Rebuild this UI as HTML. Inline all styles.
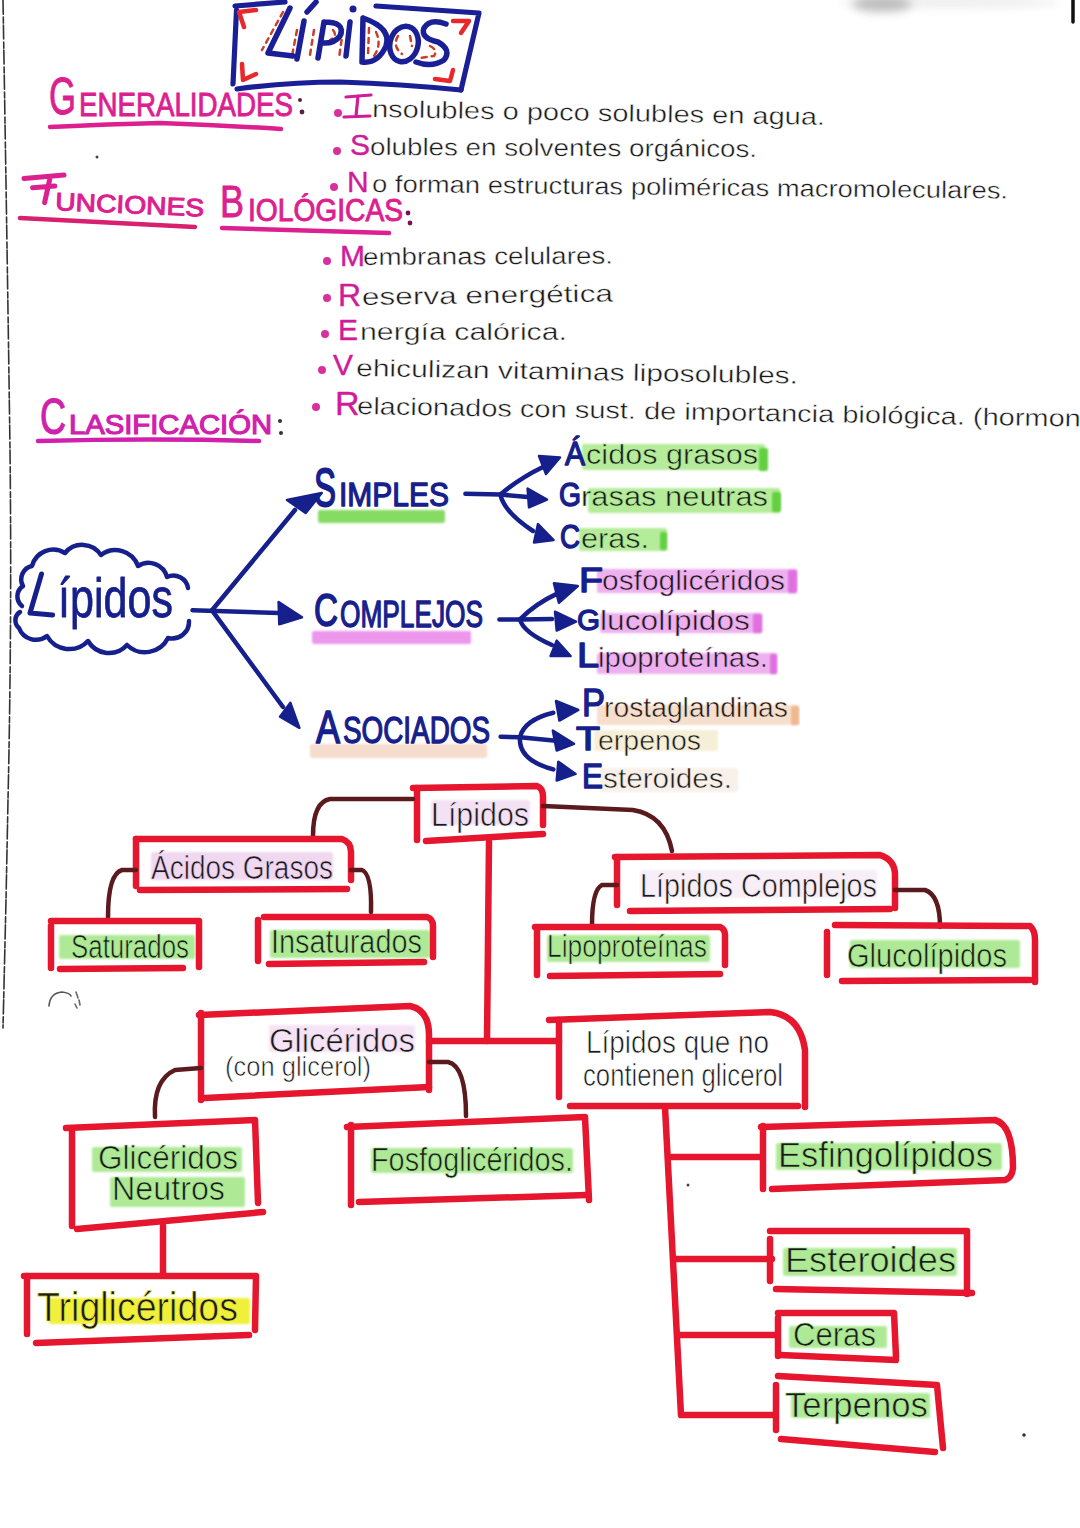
<!DOCTYPE html>
<html><head><meta charset="utf-8"><style>
html,body{margin:0;padding:0;background:#ffffff;}
svg{display:block;font-family:"Liberation Sans", sans-serif;}
</style></head><body>
<svg width="1080" height="1528" viewBox="0 0 1080 1528">
<defs><filter id="hb" x="-10%" y="-60%" width="120%" height="220%"><feGaussianBlur stdDeviation="1.2"/></filter><filter id="blur" x="-50%" y="-200%" width="200%" height="500%"><feGaussianBlur stdDeviation="5"/></filter></defs>
<rect width="1080" height="1528" fill="#ffffff"/>
<path d="M3,0 Q8,300 10,450 Q12,620 8,800 L6,900 L3,1028" fill="none" stroke="#333" stroke-width="1.6" stroke-linecap="round" stroke-linejoin="round" stroke-dasharray="14 3 6 2"/>
<ellipse cx="950" cy="2" rx="110" ry="6" fill="#ddd" opacity="0.5" filter="url(#blur)"/>
<ellipse cx="882" cy="4" rx="30" ry="8" fill="#999" opacity="0.6" filter="url(#blur)"/>
<path d="M1073,0 L1073,22" fill="none" stroke="#111" stroke-width="3.5" stroke-linecap="round" stroke-linejoin="round" />
<path d="M49,1006 Q50,993 62,992 Q70,993 71,996" fill="none" stroke="#555" stroke-width="1.6" stroke-linecap="round" stroke-linejoin="round" />
<path d="M76,992 L78,998 M79,1000 L80,1005 M75,1004 L77,1008" fill="none" stroke="#666" stroke-width="1.6" stroke-linecap="round" stroke-linejoin="round" />
<circle cx="97" cy="157" r="1.5" fill="#444"/>
<circle cx="688" cy="1185" r="1.5" fill="#444"/>
<circle cx="1024" cy="1435" r="1.8" fill="#333"/>
<path d="M235,6 L285,2" fill="none" stroke="#1a1f96" stroke-width="5.2" stroke-linecap="round" stroke-linejoin="round" />
<path d="M376,6 L479,13 L461,90" fill="none" stroke="#1a1f96" stroke-width="5.2" stroke-linecap="round" stroke-linejoin="round" />
<path d="M237,89 Q290,82 340,82 Q400,84 461,90" fill="none" stroke="#1a1f96" stroke-width="5.2" stroke-linecap="round" stroke-linejoin="round" />
<path d="M236.5,10 L233,84" fill="none" stroke="#1a1f96" stroke-width="5.2" stroke-linecap="round" stroke-linejoin="round" />
<path d="M256,10 L239,12 L244,27" fill="none" stroke="#e8282a" stroke-width="4.5" stroke-linecap="round" stroke-linejoin="round" />
<path d="M242,64 L243,80 L256,74" fill="none" stroke="#e8282a" stroke-width="4.5" stroke-linecap="round" stroke-linejoin="round" />
<path d="M453,21 L469,21 L461,33" fill="none" stroke="#e8282a" stroke-width="4.5" stroke-linecap="round" stroke-linejoin="round" />
<path d="M453,70 L450,81 L435,79" fill="none" stroke="#e8282a" stroke-width="4.5" stroke-linecap="round" stroke-linejoin="round" />
<path d="M283,12 L262,50" fill="none" stroke="#c8402a" stroke-width="2.5" stroke-linecap="round" stroke-linejoin="round" stroke-dasharray="5 5"/>
<path d="M297,30 L292,56" fill="none" stroke="#c8402a" stroke-width="2.5" stroke-linecap="round" stroke-linejoin="round" stroke-dasharray="5 5"/>
<path d="M314,30 L310,55 M333,30 Q338,36 330,40" fill="none" stroke="#c8402a" stroke-width="2.5" stroke-linecap="round" stroke-linejoin="round" stroke-dasharray="5 5"/>
<path d="M343,30 L339,58" fill="none" stroke="#c8402a" stroke-width="2.5" stroke-linecap="round" stroke-linejoin="round" stroke-dasharray="5 5"/>
<path d="M369,28 L368,56 M376,32 Q382,45 374,56" fill="none" stroke="#c8402a" stroke-width="2.5" stroke-linecap="round" stroke-linejoin="round" stroke-dasharray="5 5"/>
<path d="M398,36 Q392,46 402,54 M410,36 L412,46" fill="none" stroke="#c8402a" stroke-width="2.5" stroke-linecap="round" stroke-linejoin="round" stroke-dasharray="5 5"/>
<path d="M430,46 Q438,50 434,56 L420,58" fill="none" stroke="#c8402a" stroke-width="2.5" stroke-linecap="round" stroke-linejoin="round" stroke-dasharray="5 5"/>
<path d="M290,8 L268,53 L293,56" fill="none" stroke="#1a1f96" stroke-width="5.5" stroke-linecap="round" stroke-linejoin="round" />
<path d="M307,12 L316,2" fill="none" stroke="#1a1f96" stroke-width="5.5" stroke-linecap="round" stroke-linejoin="round" />
<path d="M304,21 L297,59" fill="none" stroke="#1a1f96" stroke-width="5.5" stroke-linecap="round" stroke-linejoin="round" />
<path d="M324,22 L318,58 M324,22 Q346,22 340,36 Q334,44 322,43" fill="none" stroke="#1a1f96" stroke-width="5.5" stroke-linecap="round" stroke-linejoin="round" />
<circle cx="353" cy="9" r="3.5" fill="#1a1f96"/>
<path d="M350,22 L346,56" fill="none" stroke="#1a1f96" stroke-width="5.5" stroke-linecap="round" stroke-linejoin="round" />
<path d="M363,18 L362,62 M363,18 Q392,28 386,46 Q378,64 362,62" fill="none" stroke="#1a1f96" stroke-width="5.5" stroke-linecap="round" stroke-linejoin="round" />
<ellipse cx="404" cy="44" rx="14" ry="18" transform="rotate(15 404 44)" fill="none" stroke="#1a1f96" stroke-width="5.5"/>
<path d="M446,24 Q430,18 424,28 Q420,38 438,42 Q452,50 444,60 Q432,68 416,62" fill="none" stroke="#1a1f96" stroke-width="5.5" stroke-linecap="round" stroke-linejoin="round" />
<text x="49" y="114" font-size="52" fill="#dc2090" stroke="#dc2090" stroke-width="0.9" textLength="27" lengthAdjust="spacingAndGlyphs">G</text>
<text x="79" y="116" font-size="34" fill="#dc2090" stroke="#dc2090" stroke-width="0.9" textLength="214" lengthAdjust="spacingAndGlyphs">ENERALIDADES</text>
<circle cx="302" cy="112" r="2.4" fill="#5a2040"/>
<circle cx="300" cy="100" r="2" fill="#5a2040"/>
<path d="M50,127 Q110,124 160,123 Q220,125 281,129" fill="none" stroke="#dc2090" stroke-width="4.5" stroke-linecap="round" stroke-linejoin="round" />
<path d="M24,178.5 L64,175 M50,178 L44.6,202.6 M32.6,187.8 L54.8,186" fill="none" stroke="#dc2090" stroke-width="5" stroke-linecap="round" stroke-linejoin="round" />
<text x="55" y="210" font-size="25" fill="#dc2090" stroke="#dc2090" stroke-width="1.0" textLength="149" lengthAdjust="spacingAndGlyphs" transform="rotate(2.5 55 210)">UNCIONES</text>
<path d="M20,218 L195,227" fill="none" stroke="#d8206f" stroke-width="4.5" stroke-linecap="round" stroke-linejoin="round" />
<text x="220" y="217" font-size="44" fill="#dc2090" stroke="#dc2090" stroke-width="0.8" textLength="24" lengthAdjust="spacingAndGlyphs">B</text>
<text x="248" y="221" font-size="31" fill="#dc2090" stroke="#dc2090" stroke-width="0.9" textLength="155" lengthAdjust="spacingAndGlyphs">IOLÓGICAS</text>
<circle cx="408" cy="213" r="2.4" fill="#7a1050"/>
<circle cx="410" cy="223" r="2.4" fill="#7a1050"/>
<path d="M222,228 L389,233" fill="none" stroke="#dc2090" stroke-width="4.5" stroke-linecap="round" stroke-linejoin="round" />
<text x="40" y="434" font-size="50" fill="#d020ac" stroke="#d020ac" stroke-width="1.1" textLength="26" lengthAdjust="spacingAndGlyphs">C</text>
<text x="69" y="434" font-size="28" fill="#d020ac" stroke="#d020ac" stroke-width="1.2" textLength="203" lengthAdjust="spacingAndGlyphs">LASIFICACIÓN</text>
<circle cx="280" cy="421" r="2" fill="#333"/>
<circle cx="281" cy="433" r="2" fill="#333"/>
<path d="M38,441 Q150,438 259,441" fill="none" stroke="#d020ac" stroke-width="4.5" stroke-linecap="round" stroke-linejoin="round" />
<circle cx="338" cy="113" r="4" fill="#d8309c"/>
<path d="M346,97 L371,95 M358,96 L356,116 M344,117 L370,116" fill="none" stroke="#d01c98" stroke-width="3.2" stroke-linecap="round" stroke-linejoin="round" />
<text x="372" y="117" font-size="24" fill="#1a1a1a" font-weight="normal" stroke="#ffffff" stroke-width="0.4" textLength="453" lengthAdjust="spacingAndGlyphs" transform="rotate(1.0 372 117)">nsolubles o poco solubles en agua.</text>
<circle cx="337" cy="151" r="4" fill="#d8309c"/>
<text x="350" y="155" font-size="30" fill="#d01c98" font-weight="normal" stroke="#d01c98" stroke-width="0.4" stroke-linejoin="round">S</text>
<text x="370" y="155" font-size="24" fill="#1a1a1a" font-weight="normal" stroke="#ffffff" stroke-width="0.4" textLength="387" lengthAdjust="spacingAndGlyphs" transform="rotate(0.3 370 155)">olubles en solventes orgánicos.</text>
<circle cx="334" cy="187" r="4" fill="#d8309c"/>
<text x="347" y="192" font-size="30" fill="#d01c98" font-weight="normal" stroke="#d01c98" stroke-width="0.4" stroke-linejoin="round">N</text>
<text x="372" y="192" font-size="24" fill="#1a1a1a" font-weight="normal" stroke="#ffffff" stroke-width="0.4" textLength="636" lengthAdjust="spacingAndGlyphs" transform="rotate(0.6 372 192)">o forman estructuras poliméricas macromoleculares.</text>
<circle cx="327" cy="261" r="4" fill="#d8309c"/>
<text x="340" y="266" font-size="30" fill="#d01c98" font-weight="normal" stroke="#d01c98" stroke-width="0.4" stroke-linejoin="round">M</text>
<text x="363" y="265" font-size="24" fill="#1a1a1a" font-weight="normal" stroke="#ffffff" stroke-width="0.4" textLength="250" lengthAdjust="spacingAndGlyphs" transform="rotate(-0.3 363 265)">embranas celulares.</text>
<circle cx="327" cy="298" r="4" fill="#d8309c"/>
<text x="338" y="306" font-size="32" fill="#d01c98" font-weight="normal" stroke="#d01c98" stroke-width="0.4" stroke-linejoin="round">R</text>
<text x="362" y="305" font-size="24" fill="#1a1a1a" font-weight="normal" stroke="#ffffff" stroke-width="0.4" textLength="251" lengthAdjust="spacingAndGlyphs" transform="rotate(-0.8 362 305)">eserva energética</text>
<circle cx="325" cy="334" r="4" fill="#d8309c"/>
<text x="338" y="340" font-size="30" fill="#d01c98" font-weight="normal" stroke="#d01c98" stroke-width="0.4" stroke-linejoin="round">E</text>
<text x="360" y="340" font-size="24" fill="#1a1a1a" font-weight="normal" stroke="#ffffff" stroke-width="0.4" textLength="207" lengthAdjust="spacingAndGlyphs">nergía calórica.</text>
<circle cx="322" cy="370" r="4" fill="#d8309c"/>
<text x="333" y="375" font-size="30" fill="#d01c98" font-weight="normal" stroke="#d01c98" stroke-width="0.4" stroke-linejoin="round">V</text>
<text x="356" y="376" font-size="24" fill="#1a1a1a" font-weight="normal" stroke="#ffffff" stroke-width="0.4" textLength="442" lengthAdjust="spacingAndGlyphs" transform="rotate(1.0 356 376)">ehiculizan vitaminas liposolubles.</text>
<circle cx="316" cy="407" r="4" fill="#d8309c"/>
<text x="335" y="415" font-size="34" fill="#d01c98" font-weight="normal" stroke="#d01c98" stroke-width="0.4" stroke-linejoin="round">R</text>
<text x="357" y="414" font-size="24" fill="#1a1a1a" font-weight="normal" stroke="#ffffff" stroke-width="0.4" textLength="740" lengthAdjust="spacingAndGlyphs" transform="rotate(1.0 357 414)">elacionados con sust. de importancia biológica. (hormona</text>
<path d="M22,606 A12.4,12.4 0 0 1 23,586 A13.6,13.6 0 0 1 32,566 A22.0,22.0 0 0 1 65,553 A22.4,22.4 0 0 1 101,555 A23.9,23.9 0 0 1 138,566 A19.2,19.2 0 0 1 167,577 A14.7,14.7 0 0 1 188,588" fill="none" stroke="#16208c" stroke-width="4.5" stroke-linecap="round" stroke-linejoin="round" />
<path d="M189,621 A16.8,16.8 0 0 1 168,638 A25.8,25.8 0 0 1 127,645 A24.3,24.3 0 0 1 88,641 A25.6,25.6 0 0 1 47,636 A18.1,18.1 0 0 1 19,628 A9.9,9.9 0 0 1 20,612" fill="none" stroke="#16208c" stroke-width="4.5" stroke-linecap="round" stroke-linejoin="round" />
<path d="M41.5,574 L30,613 L52.6,615" fill="none" stroke="#16208c" stroke-width="5" stroke-linecap="round" stroke-linejoin="round" />
<text x="58" y="617" font-size="44" fill="#16208c" font-weight="normal" stroke="#16208c" stroke-width="0.6" stroke-linejoin="round" textLength="115" lengthAdjust="spacingAndGlyphs" transform="translate(0 617) scale(1 1.25) translate(0 -617)">ípidos</text>
<path d="M192.5,610.3 L279,613" fill="none" stroke="#16208c" stroke-width="4.5" stroke-linecap="round" stroke-linejoin="round" />
<path d="M212,610.3 L295,510" fill="none" stroke="#16208c" stroke-width="4.5" stroke-linecap="round" stroke-linejoin="round" />
<path d="M212,610.3 L283,707" fill="none" stroke="#16208c" stroke-width="4.5" stroke-linecap="round" stroke-linejoin="round" />
<polygon points="321.7,493 287,500 305.7,513" fill="#16208c" stroke="#16208c" stroke-width="2.5" stroke-linejoin="round"/>
<polygon points="302,617.4 278.6,602 279.3,624.3" fill="#16208c" stroke="#16208c" stroke-width="2.5" stroke-linejoin="round"/>
<polygon points="299.4,727.8 280,716.7 290.4,702.8" fill="#16208c" stroke="#16208c" stroke-width="2.5" stroke-linejoin="round"/>
<rect x="318" y="510" width="127" height="13" rx="2" fill="#86dc62" opacity="1.0" filter="url(#hb)"/>
<rect x="312" y="631" width="159" height="13" rx="2" fill="#ec96ec" opacity="1.0" filter="url(#hb)"/>
<rect x="310" y="744" width="177" height="14" rx="2" fill="#f6dccc" opacity="1.0" filter="url(#hb)"/>
<text x="314" y="506" font-size="38" fill="#16208c" font-weight="normal" stroke="#16208c" stroke-width="1.3" stroke-linejoin="round" textLength="22" lengthAdjust="spacingAndGlyphs" transform="translate(0 506) scale(1 1.4) translate(0 -506)">S</text>
<text x="339" y="506" font-size="34" fill="#16208c" font-weight="normal" stroke="#16208c" stroke-width="1.3" stroke-linejoin="round" textLength="110" lengthAdjust="spacingAndGlyphs">IMPLES</text>
<text x="314" y="626" font-size="36" fill="#16208c" font-weight="normal" stroke="#16208c" stroke-width="1.3" stroke-linejoin="round" textLength="24" lengthAdjust="spacingAndGlyphs" transform="translate(0 626) scale(1 1.3) translate(0 -626)">C</text>
<text x="340" y="627" font-size="36" fill="#16208c" font-weight="normal" stroke="#16208c" stroke-width="1.3" stroke-linejoin="round" textLength="143" lengthAdjust="spacingAndGlyphs" transform="translate(0 627) scale(1 1.05) translate(0 -627)">OMPLEJOS</text>
<text x="316" y="743" font-size="36" fill="#16208c" font-weight="normal" stroke="#16208c" stroke-width="1.3" stroke-linejoin="round" textLength="24" lengthAdjust="spacingAndGlyphs" transform="translate(0 743) scale(1 1.3) translate(0 -743)">A</text>
<text x="343" y="743" font-size="36" fill="#16208c" font-weight="normal" stroke="#16208c" stroke-width="1.3" stroke-linejoin="round" textLength="147" lengthAdjust="spacingAndGlyphs">SOCIADOS</text>
<path d="M465.4,493.8 L500.4,494.5" fill="none" stroke="#16208c" stroke-width="4.5" stroke-linecap="round" stroke-linejoin="round" />
<path d="M500.4,494.5 Q520,478 543,467" fill="none" stroke="#16208c" stroke-width="4.5" stroke-linecap="round" stroke-linejoin="round" />
<path d="M500.4,494.5 L527.6,497" fill="none" stroke="#16208c" stroke-width="4.5" stroke-linecap="round" stroke-linejoin="round" />
<path d="M500.4,494.5 Q504,512 533,531" fill="none" stroke="#16208c" stroke-width="4.5" stroke-linecap="round" stroke-linejoin="round" />
<polygon points="560,457.5 539,456 546,474" fill="#16208c" stroke="#16208c" stroke-width="2.5" stroke-linejoin="round"/>
<polygon points="547,499.7 527.6,488.6 529,507.4" fill="#16208c" stroke="#16208c" stroke-width="2.5" stroke-linejoin="round"/>
<polygon points="553.6,540 538,524 534,542.5" fill="#16208c" stroke="#16208c" stroke-width="2.5" stroke-linejoin="round"/>
<path d="M499.4,619.4 L520,619.4" fill="none" stroke="#16208c" stroke-width="4.5" stroke-linecap="round" stroke-linejoin="round" />
<path d="M520,619.4 Q535,604 556.7,593.9" fill="none" stroke="#16208c" stroke-width="4.5" stroke-linecap="round" stroke-linejoin="round" />
<path d="M520,619.4 L552,619" fill="none" stroke="#16208c" stroke-width="4.5" stroke-linecap="round" stroke-linejoin="round" />
<path d="M520,619.4 Q523,632 552,645" fill="none" stroke="#16208c" stroke-width="4.5" stroke-linecap="round" stroke-linejoin="round" />
<polygon points="577.8,586 553.9,583.3 558.9,602.8" fill="#16208c" stroke="#16208c" stroke-width="2.5" stroke-linejoin="round"/>
<polygon points="576,621.7 555,611.7 556.7,630.6" fill="#16208c" stroke="#16208c" stroke-width="2.5" stroke-linejoin="round"/>
<polygon points="570.6,656 556.7,640.6 550.6,656" fill="#16208c" stroke="#16208c" stroke-width="2.5" stroke-linejoin="round"/>
<path d="M500.6,736.7 L520,737.2" fill="none" stroke="#16208c" stroke-width="4.5" stroke-linecap="round" stroke-linejoin="round" />
<path d="M520,737.2 Q524,720 553.3,712.8" fill="none" stroke="#16208c" stroke-width="4.5" stroke-linecap="round" stroke-linejoin="round" />
<path d="M520,737.2 L553.3,740.6" fill="none" stroke="#16208c" stroke-width="4.5" stroke-linecap="round" stroke-linejoin="round" />
<path d="M520,737.2 Q518,760 553.3,769.4" fill="none" stroke="#16208c" stroke-width="4.5" stroke-linecap="round" stroke-linejoin="round" />
<polygon points="578.3,710 556,701 559.4,720.6" fill="#16208c" stroke="#16208c" stroke-width="2.5" stroke-linejoin="round"/>
<polygon points="574,743.9 552.8,730.6 556.7,750.6" fill="#16208c" stroke="#16208c" stroke-width="2.5" stroke-linejoin="round"/>
<polygon points="575.6,773.9 558.3,761.7 556.7,780.6" fill="#16208c" stroke="#16208c" stroke-width="2.5" stroke-linejoin="round"/>
<rect x="582" y="444" width="183" height="26" rx="2" fill="#b4ec9a" opacity="1.0" filter="url(#hb)"/>
<rect x="588" y="488" width="192" height="25" rx="2" fill="#b4ec9a" opacity="1.0" filter="url(#hb)"/>
<rect x="579" y="528" width="88" height="23" rx="2" fill="#b4ec9a" opacity="1.0" filter="url(#hb)"/>
<rect x="597" y="569" width="200" height="24" rx="2" fill="#eeb0ee" opacity="1.0" filter="url(#hb)"/>
<rect x="600" y="613" width="162" height="20" rx="2" fill="#eeb0ee" opacity="1.0" filter="url(#hb)"/>
<rect x="597" y="653" width="180" height="21" rx="2" fill="#eeb0ee" opacity="1.0" filter="url(#hb)"/>
<rect x="597" y="705" width="202" height="20" rx="2" fill="#f6dfcc" opacity="1.0" filter="url(#hb)"/>
<rect x="594" y="730" width="124" height="21" rx="2" fill="#f6efd8" opacity="1.0" filter="url(#hb)"/>
<rect x="600" y="768" width="138" height="24" rx="2" fill="#f8f1ea" opacity="1.0" filter="url(#hb)"/>
<text x="565" y="465" font-size="32" fill="#16208c" font-weight="normal" stroke="#16208c" stroke-width="1.3" stroke-linejoin="round" textLength="20" lengthAdjust="spacingAndGlyphs" transform="translate(0 465) scale(1 1.05) translate(0 -465)">Á</text>
<text x="586" y="464" font-size="28" fill="#1a1a1a" font-weight="normal" stroke="#b4ec9a" stroke-width="0.55" textLength="172" lengthAdjust="spacingAndGlyphs">cidos grasos</text>
<rect x="759" y="448" width="9" height="23" rx="2" fill="#62d040" opacity="1.0" filter="url(#hb)"/>
<text x="559" y="506" font-size="30" fill="#16208c" font-weight="normal" stroke="#16208c" stroke-width="1.3" stroke-linejoin="round" textLength="22" lengthAdjust="spacingAndGlyphs" transform="translate(0 506) scale(1 1.1) translate(0 -506)">G</text>
<text x="581" y="506" font-size="28" fill="#1a1a1a" font-weight="normal" stroke="#b4ec9a" stroke-width="0.55" textLength="187" lengthAdjust="spacingAndGlyphs">rasas neutras</text>
<rect x="772" y="492" width="9" height="20" rx="2" fill="#62d040" opacity="1.0" filter="url(#hb)"/>
<text x="560" y="548" font-size="30" fill="#16208c" font-weight="normal" stroke="#16208c" stroke-width="1.3" stroke-linejoin="round" textLength="20" lengthAdjust="spacingAndGlyphs" transform="translate(0 548) scale(1 1.1) translate(0 -548)">C</text>
<text x="581" y="548" font-size="28" fill="#1a1a1a" font-weight="normal" stroke="#b4ec9a" stroke-width="0.55" textLength="68" lengthAdjust="spacingAndGlyphs">eras.</text>
<rect x="660" y="532" width="7" height="18" rx="2" fill="#62d040" opacity="1.0" filter="url(#hb)"/>
<text x="579" y="592" font-size="32" fill="#16208c" font-weight="normal" stroke="#16208c" stroke-width="1.3" stroke-linejoin="round" textLength="24" lengthAdjust="spacingAndGlyphs" transform="translate(0 592) scale(1 1.1) translate(0 -592)">F</text>
<text x="602" y="590" font-size="28" fill="#1a1a1a" font-weight="normal" stroke="#eeb0ee" stroke-width="0.55" textLength="183" lengthAdjust="spacingAndGlyphs">osfoglicéridos</text>
<rect x="788" y="570" width="9" height="23" rx="2" fill="#e070e0" opacity="1.0" filter="url(#hb)"/>
<text x="577" y="630" font-size="28" fill="#16208c" font-weight="normal" stroke="#16208c" stroke-width="1.3" stroke-linejoin="round" textLength="23" lengthAdjust="spacingAndGlyphs" transform="translate(0 630) scale(1 1.05) translate(0 -630)">G</text>
<text x="600" y="630" font-size="28" fill="#1a1a1a" font-weight="normal" stroke="#eeb0ee" stroke-width="0.55" textLength="150" lengthAdjust="spacingAndGlyphs">lucolípidos</text>
<rect x="753" y="614" width="9" height="19" rx="2" fill="#e070e0" opacity="1.0" filter="url(#hb)"/>
<text x="577" y="667" font-size="32" fill="#16208c" font-weight="normal" stroke="#16208c" stroke-width="1.3" stroke-linejoin="round" textLength="22" lengthAdjust="spacingAndGlyphs" transform="translate(0 667) scale(1 1.1) translate(0 -667)">L</text>
<text x="598" y="667" font-size="28" fill="#1a1a1a" font-weight="normal" stroke="#eeb0ee" stroke-width="0.55" textLength="170" lengthAdjust="spacingAndGlyphs">ipoproteínas.</text>
<rect x="770" y="654" width="7" height="20" rx="2" fill="#e070e0" opacity="1.0" filter="url(#hb)"/>
<text x="582" y="716" font-size="36" fill="#16208c" font-weight="normal" stroke="#16208c" stroke-width="1.3" stroke-linejoin="round" textLength="23" lengthAdjust="spacingAndGlyphs" transform="translate(0 716) scale(1 1.1) translate(0 -716)">P</text>
<text x="604" y="717" font-size="28" fill="#1a1a1a" font-weight="normal" stroke="#f6dfcc" stroke-width="0.55" textLength="184" lengthAdjust="spacingAndGlyphs">rostaglandinas</text>
<rect x="791" y="706" width="8" height="19" rx="2" fill="#f0b890" opacity="1.0" filter="url(#hb)"/>
<text x="576" y="750" font-size="30" fill="#16208c" font-weight="normal" stroke="#16208c" stroke-width="1.3" stroke-linejoin="round" textLength="24" lengthAdjust="spacingAndGlyphs" transform="translate(0 750) scale(1 1.1) translate(0 -750)">T</text>
<text x="598" y="750" font-size="28" fill="#1a1a1a" font-weight="normal" stroke="#f6efd8" stroke-width="0.55" textLength="103" lengthAdjust="spacingAndGlyphs">erpenos</text>
<text x="582" y="788" font-size="32" fill="#16208c" font-weight="normal" stroke="#16208c" stroke-width="1.3" stroke-linejoin="round" textLength="21" lengthAdjust="spacingAndGlyphs" transform="translate(0 788) scale(1 1.1) translate(0 -788)">E</text>
<text x="603" y="788" font-size="28" fill="#1a1a1a" font-weight="normal" stroke="#f8f1ea" stroke-width="0.55" textLength="129" lengthAdjust="spacingAndGlyphs">steroides.</text>
<rect x="431" y="800" width="99" height="25" rx="2" fill="#f4e2f4" opacity="1.0" filter="url(#hb)"/>
<text x="431" y="826" font-size="28" fill="#1a1a1a" font-weight="normal" stroke="#f4e2f4" stroke-width="0.55" textLength="98" lengthAdjust="spacingAndGlyphs" transform="translate(0 826) scale(1 1.2) translate(0 -826)">Lípidos</text>
<path d="M413,788 L537,786 Q543,788 543,797 L543,825" fill="none" stroke="#e5162e" stroke-width="6.5" stroke-linecap="round" stroke-linejoin="round" />
<path d="M417,788 L417,840" fill="none" stroke="#e5162e" stroke-width="6.5" stroke-linecap="round" stroke-linejoin="round" />
<path d="M426,841 L543,834" fill="none" stroke="#e5162e" stroke-width="6.5" stroke-linecap="round" stroke-linejoin="round" />
<path d="M489,842 L487,1041" fill="none" stroke="#e5162e" stroke-width="6.5" stroke-linecap="round" stroke-linejoin="round" />
<path d="M413,799 L330,799 Q313,802 313,836" fill="none" stroke="#5a1a1e" stroke-width="4.5" stroke-linecap="round" stroke-linejoin="round" />
<path d="M543,806 L633,810 Q665,815 672,851" fill="none" stroke="#5a1a1e" stroke-width="4.5" stroke-linecap="round" stroke-linejoin="round" />
<rect x="151" y="852" width="182" height="28" rx="2" fill="#f0d8f0" opacity="1.0" filter="url(#hb)"/>
<text x="151" y="879" font-size="28" fill="#1a1a1a" font-weight="normal" stroke="#f0d8f0" stroke-width="0.55" textLength="182" lengthAdjust="spacingAndGlyphs" transform="translate(0 879) scale(1 1.2) translate(0 -879)">Ácidos Grasos</text>
<path d="M136,839 L342,839 Q351,842 351,852 L351,880" fill="none" stroke="#e5162e" stroke-width="6.5" stroke-linecap="round" stroke-linejoin="round" />
<path d="M136,839 L136,886" fill="none" stroke="#e5162e" stroke-width="6.5" stroke-linecap="round" stroke-linejoin="round" />
<path d="M140,890 L347,889" fill="none" stroke="#e5162e" stroke-width="6.5" stroke-linecap="round" stroke-linejoin="round" />
<path d="M136,870 L122,870 Q108,874 108,917" fill="none" stroke="#5a1a1e" stroke-width="4.5" stroke-linecap="round" stroke-linejoin="round" />
<path d="M351,870 L362,870 Q372,874 371,912" fill="none" stroke="#5a1a1e" stroke-width="4.5" stroke-linecap="round" stroke-linejoin="round" />
<rect x="59" y="935" width="136" height="24" rx="2" fill="#aeea96" opacity="1.0" filter="url(#hb)"/>
<text x="71" y="958" font-size="27" fill="#1a1a1a" font-weight="normal" stroke="#aeea96" stroke-width="0.55" textLength="118" lengthAdjust="spacingAndGlyphs" transform="translate(0 958) scale(1 1.2) translate(0 -958)">Saturados</text>
<path d="M51,921 L199,921 L199,967" fill="none" stroke="#e5162e" stroke-width="6.5" stroke-linecap="round" stroke-linejoin="round" />
<path d="M51,926 L51,968" fill="none" stroke="#e5162e" stroke-width="6.5" stroke-linecap="round" stroke-linejoin="round" />
<path d="M60,969 L183,968" fill="none" stroke="#e5162e" stroke-width="6.5" stroke-linecap="round" stroke-linejoin="round" />
<rect x="270" y="930" width="160" height="28" rx="2" fill="#aeea96" opacity="1.0" filter="url(#hb)"/>
<text x="271" y="953" font-size="27" fill="#1a1a1a" font-weight="normal" stroke="#aeea96" stroke-width="0.55" textLength="151" lengthAdjust="spacingAndGlyphs" transform="translate(0 953) scale(1 1.2) translate(0 -953)">Insaturados</text>
<path d="M264,917 L427,917 Q433,919 433,926 L433,957" fill="none" stroke="#e5162e" stroke-width="6.5" stroke-linecap="round" stroke-linejoin="round" />
<path d="M258,920 L258,961" fill="none" stroke="#e5162e" stroke-width="6.5" stroke-linecap="round" stroke-linejoin="round" />
<path d="M269,964 L424,962" fill="none" stroke="#e5162e" stroke-width="6.5" stroke-linecap="round" stroke-linejoin="round" />
<rect x="640" y="870" width="237" height="28" rx="2" fill="#f7eef7" opacity="1.0" filter="url(#hb)"/>
<text x="640" y="897" font-size="28" fill="#1a1a1a" font-weight="normal" stroke="#f7eef7" stroke-width="0.55" textLength="237" lengthAdjust="spacingAndGlyphs" transform="translate(0 897) scale(1 1.2) translate(0 -897)">Lípidos Complejos</text>
<path d="M615,857 L880,855 Q895,860 895,875 L895,908" fill="none" stroke="#e5162e" stroke-width="6.5" stroke-linecap="round" stroke-linejoin="round" />
<path d="M617,857 L617,905" fill="none" stroke="#e5162e" stroke-width="6.5" stroke-linecap="round" stroke-linejoin="round" />
<path d="M630,911 L890,909" fill="none" stroke="#e5162e" stroke-width="6.5" stroke-linecap="round" stroke-linejoin="round" />
<path d="M617,885 L602,885 Q592,890 592,925" fill="none" stroke="#5a1a1e" stroke-width="4.5" stroke-linecap="round" stroke-linejoin="round" />
<path d="M895,890 L925,890 Q940,895 940,927" fill="none" stroke="#5a1a1e" stroke-width="4.5" stroke-linecap="round" stroke-linejoin="round" />
<rect x="547" y="935" width="163" height="27" rx="2" fill="#aeea96" opacity="1.0" filter="url(#hb)"/>
<text x="547" y="957" font-size="25" fill="#1a1a1a" font-weight="normal" stroke="#aeea96" stroke-width="0.55" textLength="160" lengthAdjust="spacingAndGlyphs" transform="translate(0 957) scale(1 1.25) translate(0 -957)">Lipoproteínas</text>
<path d="M535,927 L720,927 Q725,929 725,935 L725,965" fill="none" stroke="#e5162e" stroke-width="6.5" stroke-linecap="round" stroke-linejoin="round" />
<path d="M537,930 L537,975" fill="none" stroke="#e5162e" stroke-width="6.5" stroke-linecap="round" stroke-linejoin="round" />
<path d="M550,976 L720,974" fill="none" stroke="#e5162e" stroke-width="6.5" stroke-linecap="round" stroke-linejoin="round" />
<rect x="850" y="940" width="170" height="28" rx="2" fill="#aeea96" opacity="1.0" filter="url(#hb)"/>
<text x="847" y="967" font-size="28" fill="#1a1a1a" font-weight="normal" stroke="#aeea96" stroke-width="0.55" textLength="160" lengthAdjust="spacingAndGlyphs" transform="translate(0 967) scale(1 1.2) translate(0 -967)">Glucolípidos</text>
<path d="M827,932 L827,975" fill="none" stroke="#e5162e" stroke-width="6.5" stroke-linecap="round" stroke-linejoin="round" />
<path d="M835,925 L1030,926 Q1035,930 1035,940 L1035,982" fill="none" stroke="#e5162e" stroke-width="6.5" stroke-linecap="round" stroke-linejoin="round" />
<path d="M842,981 L1030,980" fill="none" stroke="#e5162e" stroke-width="6.5" stroke-linecap="round" stroke-linejoin="round" />
<rect x="269" y="1025" width="146" height="27" rx="2" fill="#f6e4f6" opacity="1.0" filter="url(#hb)"/>
<text x="269" y="1052" font-size="28" fill="#1a1a1a" font-weight="normal" stroke="#f6e4f6" stroke-width="0.55" textLength="146" lengthAdjust="spacingAndGlyphs" transform="translate(0 1052) scale(1 1.2) translate(0 -1052)">Glicéridos</text>
<text x="225" y="1076" font-size="23" fill="#1a1a1a" font-weight="normal" stroke="#ffffff" stroke-width="0.55" textLength="146" lengthAdjust="spacingAndGlyphs" transform="translate(0 1076) scale(1 1.2) translate(0 -1076)">(con glicerol)</text>
<path d="M199,1015 L410,1006 Q429,1010 429,1035 L429,1090" fill="none" stroke="#e5162e" stroke-width="6.5" stroke-linecap="round" stroke-linejoin="round" />
<path d="M201,1013 L201,1100" fill="none" stroke="#e5162e" stroke-width="6.5" stroke-linecap="round" stroke-linejoin="round" />
<path d="M205,1098 L429,1087" fill="none" stroke="#e5162e" stroke-width="6.5" stroke-linecap="round" stroke-linejoin="round" />
<path d="M429,1041 L559,1041" fill="none" stroke="#e5162e" stroke-width="6.5" stroke-linecap="round" stroke-linejoin="round" />
<path d="M429,1062 L448,1062 Q466,1066 466,1116" fill="none" stroke="#5a1a1e" stroke-width="4.5" stroke-linecap="round" stroke-linejoin="round" />
<path d="M201,1068 L175,1070 Q153,1080 155,1117" fill="none" stroke="#5a1a1e" stroke-width="4.5" stroke-linecap="round" stroke-linejoin="round" />
<text x="586" y="1053" font-size="26" fill="#1a1a1a" font-weight="normal" stroke="#ffffff" stroke-width="0.55" textLength="183" lengthAdjust="spacingAndGlyphs" transform="translate(0 1053) scale(1 1.2) translate(0 -1053)">Lípidos que no</text>
<text x="583" y="1086" font-size="26" fill="#1a1a1a" font-weight="normal" stroke="#ffffff" stroke-width="0.55" textLength="200" lengthAdjust="spacingAndGlyphs" transform="translate(0 1086) scale(1 1.2) translate(0 -1086)">contienen glicerol</text>
<path d="M549,1020 L770,1012 Q800,1015 805,1050 L805,1107" fill="none" stroke="#e5162e" stroke-width="6.5" stroke-linecap="round" stroke-linejoin="round" />
<path d="M559,1020 L559,1097" fill="none" stroke="#e5162e" stroke-width="6.5" stroke-linecap="round" stroke-linejoin="round" />
<path d="M570,1106 L798,1106" fill="none" stroke="#e5162e" stroke-width="6.5" stroke-linecap="round" stroke-linejoin="round" />
<rect x="92" y="1147" width="150" height="25" rx="2" fill="#aeea96" opacity="1.0" filter="url(#hb)"/>
<rect x="110" y="1177" width="135" height="30" rx="2" fill="#aeea96" opacity="1.0" filter="url(#hb)"/>
<text x="98" y="1169" font-size="27" fill="#1a1a1a" font-weight="normal" stroke="#aeea96" stroke-width="0.55" textLength="140" lengthAdjust="spacingAndGlyphs" transform="translate(0 1169) scale(1 1.2) translate(0 -1169)">Glicéridos</text>
<text x="112" y="1200" font-size="27" fill="#1a1a1a" font-weight="normal" stroke="#aeea96" stroke-width="0.55" textLength="113" lengthAdjust="spacingAndGlyphs" transform="translate(0 1200) scale(1 1.2) translate(0 -1200)">Neutros</text>
<path d="M66,1128 L255,1120 L258,1203" fill="none" stroke="#e5162e" stroke-width="6.5" stroke-linecap="round" stroke-linejoin="round" />
<path d="M72,1130 L72,1226" fill="none" stroke="#e5162e" stroke-width="6.5" stroke-linecap="round" stroke-linejoin="round" />
<path d="M77,1229 L263,1212" fill="none" stroke="#e5162e" stroke-width="6.5" stroke-linecap="round" stroke-linejoin="round" />
<path d="M163,1226 L163,1273" fill="none" stroke="#e5162e" stroke-width="6.5" stroke-linecap="round" stroke-linejoin="round" />
<rect x="49" y="1298" width="201" height="26" rx="2" fill="#f0f03a" opacity="1.0" filter="url(#hb)"/>
<text x="37" y="1321" font-size="32" fill="#1a1a1a" font-weight="normal" stroke="#f0f03a" stroke-width="0.55" textLength="201" lengthAdjust="spacingAndGlyphs" transform="translate(0 1321) scale(1 1.25) translate(0 -1321)">Triglicéridos</text>
<path d="M24,1276 L256,1276 L255,1330" fill="none" stroke="#e5162e" stroke-width="6.5" stroke-linecap="round" stroke-linejoin="round" />
<path d="M27,1276 L27,1334" fill="none" stroke="#e5162e" stroke-width="6.5" stroke-linecap="round" stroke-linejoin="round" />
<path d="M36,1343 L249,1335" fill="none" stroke="#e5162e" stroke-width="6.5" stroke-linecap="round" stroke-linejoin="round" />
<rect x="371" y="1148" width="202" height="25" rx="2" fill="#aeea96" opacity="1.0" filter="url(#hb)"/>
<text x="371" y="1171" font-size="27" fill="#1a1a1a" font-weight="normal" stroke="#aeea96" stroke-width="0.55" textLength="202" lengthAdjust="spacingAndGlyphs" transform="translate(0 1171) scale(1 1.25) translate(0 -1171)">Fosfoglicéridos.</text>
<path d="M347,1127 L585,1117 L589,1200" fill="none" stroke="#e5162e" stroke-width="6.5" stroke-linecap="round" stroke-linejoin="round" />
<path d="M351,1125 L351,1205" fill="none" stroke="#e5162e" stroke-width="6.5" stroke-linecap="round" stroke-linejoin="round" />
<path d="M359,1202 L587,1195" fill="none" stroke="#e5162e" stroke-width="6.5" stroke-linecap="round" stroke-linejoin="round" />
<path d="M665,1107 L681,1415 L772,1415" fill="none" stroke="#e5162e" stroke-width="6.5" stroke-linecap="round" stroke-linejoin="round" />
<path d="M672,1157 L761,1157" fill="none" stroke="#e5162e" stroke-width="6.5" stroke-linecap="round" stroke-linejoin="round" />
<path d="M676,1259 L772,1259" fill="none" stroke="#e5162e" stroke-width="6.5" stroke-linecap="round" stroke-linejoin="round" />
<path d="M678,1335 L776,1335" fill="none" stroke="#e5162e" stroke-width="6.5" stroke-linecap="round" stroke-linejoin="round" />
<rect x="776" y="1143" width="226" height="27" rx="2" fill="#aeea96" opacity="1.0" filter="url(#hb)"/>
<text x="778" y="1167" font-size="28" fill="#1a1a1a" font-weight="normal" stroke="#aeea96" stroke-width="0.55" textLength="215" lengthAdjust="spacingAndGlyphs" transform="translate(0 1167) scale(1 1.25) translate(0 -1167)">Esfingolípidos</text>
<path d="M761,1127 L995,1120 Q1013,1125 1013,1168 Q1012,1178 1005,1180 L772,1189" fill="none" stroke="#e5162e" stroke-width="6.5" stroke-linecap="round" stroke-linejoin="round" />
<path d="M763,1126 L763,1189" fill="none" stroke="#e5162e" stroke-width="6.5" stroke-linecap="round" stroke-linejoin="round" />
<rect x="783" y="1248" width="174" height="28" rx="2" fill="#aeea96" opacity="1.0" filter="url(#hb)"/>
<text x="785" y="1272" font-size="28" fill="#1a1a1a" font-weight="normal" stroke="#aeea96" stroke-width="0.55" textLength="171" lengthAdjust="spacingAndGlyphs" transform="translate(0 1272) scale(1 1.25) translate(0 -1272)">Esteroides</text>
<path d="M770,1231 L967,1231 L967,1294" fill="none" stroke="#e5162e" stroke-width="6.5" stroke-linecap="round" stroke-linejoin="round" />
<path d="M770,1239 L770,1281" fill="none" stroke="#e5162e" stroke-width="6.5" stroke-linecap="round" stroke-linejoin="round" />
<path d="M776,1289 L972,1293" fill="none" stroke="#e5162e" stroke-width="6.5" stroke-linecap="round" stroke-linejoin="round" />
<rect x="789" y="1326" width="98" height="22" rx="2" fill="#aeea96" opacity="1.0" filter="url(#hb)"/>
<text x="793" y="1346" font-size="28" fill="#1a1a1a" font-weight="normal" stroke="#aeea96" stroke-width="0.55" textLength="83" lengthAdjust="spacingAndGlyphs" transform="translate(0 1346) scale(1 1.2) translate(0 -1346)">Ceras</text>
<path d="M778,1313 L894,1313 L896,1357" fill="none" stroke="#e5162e" stroke-width="6.5" stroke-linecap="round" stroke-linejoin="round" />
<path d="M778,1318 L778,1356" fill="none" stroke="#e5162e" stroke-width="6.5" stroke-linecap="round" stroke-linejoin="round" />
<path d="M780,1355 L896,1360" fill="none" stroke="#e5162e" stroke-width="6.5" stroke-linecap="round" stroke-linejoin="round" />
<rect x="791" y="1393" width="139" height="25" rx="2" fill="#aeea96" opacity="1.0" filter="url(#hb)"/>
<text x="785" y="1417" font-size="28" fill="#1a1a1a" font-weight="normal" stroke="#aeea96" stroke-width="0.55" textLength="143" lengthAdjust="spacingAndGlyphs" transform="translate(0 1417) scale(1 1.25) translate(0 -1417)">Terpenos</text>
<path d="M778,1376 L937,1385 L943,1448" fill="none" stroke="#e5162e" stroke-width="6.5" stroke-linecap="round" stroke-linejoin="round" />
<path d="M776,1385 L776,1430" fill="none" stroke="#e5162e" stroke-width="6.5" stroke-linecap="round" stroke-linejoin="round" />
<path d="M781,1439 L935,1452" fill="none" stroke="#e5162e" stroke-width="6.5" stroke-linecap="round" stroke-linejoin="round" />
</svg></body></html>
